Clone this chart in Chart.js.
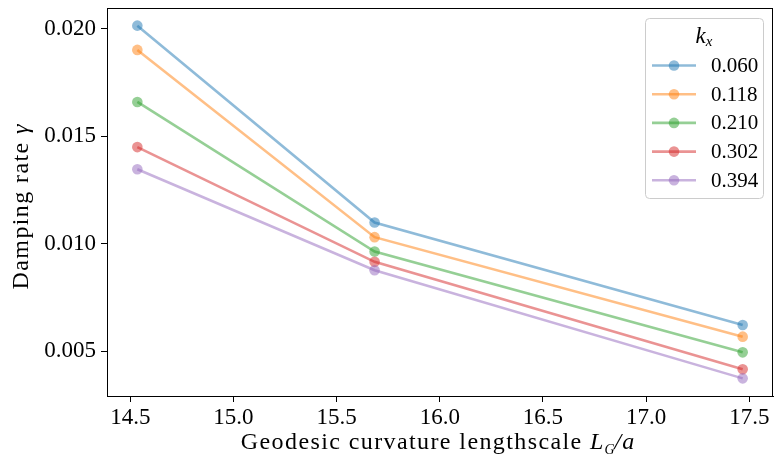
<!DOCTYPE html>
<html lang="en">
<head>
    <meta charset="UTF-8">
    <title>Damping rate vs geodesic curvature lengthscale</title>
    <script src="https://cdn.jsdelivr.net/npm/chart.js"></script>
    <style>
        body { margin: 0; background: #fff; }
        #wrap { width: 774px; height: 457px; }
    </style>
</head>
<body>
    <div id="wrap"><canvas id="dampChart" width="774" height="457"></canvas></div>

    <script>
        // data
        const lengthscales = [14.534, 15.684, 17.468];
        const kxLabels = ['0.060', '0.118', '0.210', '0.302', '0.394'];
        const gamma060 = [0.02014, 0.01098, 0.00621];
        const gamma118 = [0.01901, 0.01030, 0.00567];
        const gamma210 = [0.01659, 0.00963, 0.00494];
        const gamma302 = [0.01449, 0.00915, 0.00415];
        const gamma394 = [0.01346, 0.00876, 0.00373];
        const xTicks = [14.5, 15.0, 15.5, 16.0, 16.5, 17.0, 17.5];
        const yTicks = [0.005, 0.010, 0.015, 0.020];

        const allGamma = [gamma060, gamma118, gamma210, gamma302, gamma394];
        const colours = [
            'rgba(31, 119, 180, 0.5)',
            'rgba(255, 127, 14, 0.5)',
            'rgba(44, 160, 44, 0.5)',
            'rgba(214, 39, 40, 0.5)',
            'rgba(148, 103, 189, 0.5)'
        ];

        const serif = "'Liberation Serif', 'DejaVu Serif', serif";
        Chart.defaults.font.family = serif;
        Chart.defaults.color = '#000';

        const datasets = allGamma.map((g, i) => ({
            label: kxLabels[i],
            data: g.map((v, j) => ({ x: lengthscales[j], y: v })),
            borderColor: colours[i],
            backgroundColor: colours[i],
            pointBackgroundColor: colours[i],
            borderWidth: 2.6,
            pointRadius: 5.3,
            pointBorderWidth: 0,
            pointHoverRadius: 5.3,
            tension: 0,
            order: allGamma.length - i
        }));

        // write text pieces one after another, centred on cx
        function drawParts(ctx, parts, cx, y) {
            let total = 0;
            parts.forEach(p => {
                ctx.font = p.f;
                ctx.letterSpacing = p.ls || '0px';
                p.w = ctx.measureText(p.t).width;
                total += p.w;
            });
            let x = cx - total / 2;
            parts.forEach(p => {
                ctx.font = p.f;
                ctx.letterSpacing = p.ls || '0px';
                ctx.fillText(p.t, x, y + (p.dy || 0));
                x += p.w;
            });
            ctx.letterSpacing = '0px';
        }

        // fixed axis sizes, no extra room for overhanging labels
        function fitAxis(s, size) {
            if (s.isHorizontal()) s.height = size; else s.width = size;
            s.paddingTop = 0;
            s.paddingBottom = 0;
            s.paddingLeft = 0;
            s.paddingRight = 0;
        }

        // draws the frame, axis titles with math parts and the legend box
        const decorations = {
            id: 'decorations',
            afterDraw(chart) {
                const ctx = chart.ctx;
                const a = chart.chartArea;
                ctx.save();

                // top and right spines
                ctx.strokeStyle = '#000';
                ctx.lineWidth = 1;
                ctx.strokeRect(Math.round(a.left) + 0.5, Math.round(a.top) + 0.5,
                    Math.round(a.right - a.left) - 1, Math.round(a.bottom - a.top));

                ctx.fillStyle = '#000';
                ctx.textBaseline = 'alphabetic';
                ctx.textAlign = 'left';

                // x title
                drawParts(ctx, [
                    { t: 'Geodesic curvature lengthscale ', f: '24px ' + serif, ls: '1.4px' },
                    { t: 'L', f: 'italic 24px ' + serif, ls: '1px' },
                    { t: 'G', f: 'italic 14px ' + serif, dy: 5 },
                    { t: '/a', f: 'italic 24px ' + serif, ls: '1px' }
                ], (a.left + a.right) / 2 - 2, 449);

                // y title
                ctx.save();
                ctx.translate(28, (a.top + a.bottom) / 2 + 5);
                ctx.rotate(-Math.PI / 2);
                drawParts(ctx, [
                    { t: 'Damping rate ', f: '24px ' + serif, ls: '1.4px' },
                    { t: 'γ', f: 'italic 24px ' + serif }
                ], 0, 0);
                ctx.restore();

                // legend
                const bx = 645.5, by = 18.5, bw = 118, bh = 180, r = 4;
                ctx.beginPath();
                ctx.moveTo(bx + r, by);
                ctx.arcTo(bx + bw, by, bx + bw, by + bh, r);
                ctx.arcTo(bx + bw, by + bh, bx, by + bh, r);
                ctx.arcTo(bx, by + bh, bx, by, r);
                ctx.arcTo(bx, by, bx + bw, by, r);
                ctx.closePath();
                ctx.fillStyle = 'rgba(255, 255, 255, 0.8)';
                ctx.fill();
                ctx.strokeStyle = '#cccccc';
                ctx.stroke();

                // legend title k_x
                ctx.fillStyle = '#000';
                drawParts(ctx, [
                    { t: 'k', f: 'italic 23px ' + serif },
                    { t: 'x', f: 'italic 15px ' + serif, dy: 3 }
                ], 704, 43);

                chart.data.datasets.forEach((ds, i) => {
                    const ry = 65.5 + i * 28.7;
                    ctx.strokeStyle = ds.borderColor;
                    ctx.lineWidth = 2.6;
                    ctx.beginPath();
                    ctx.moveTo(652, ry);
                    ctx.lineTo(696, ry);
                    ctx.stroke();
                    ctx.fillStyle = ds.borderColor;
                    ctx.beginPath();
                    ctx.arc(674, ry, 5.3, 0, Math.PI * 2);
                    ctx.fill();
                    ctx.fillStyle = '#000';
                    ctx.font = '21px ' + serif;
                    ctx.textBaseline = 'middle';
                    ctx.fillText(ds.label, 711, ry + 1);
                    ctx.textBaseline = 'alphabetic';
                });

                ctx.restore();
            }
        };

        new Chart(document.getElementById('dampChart'), {
            type: 'line',
            data: { datasets: datasets },
            options: {
                responsive: false,
                animation: false,
                devicePixelRatio: 1,
                layout: { autoPadding: false, padding: { top: 8, right: 1, left: 0, bottom: 0 } },
                plugins: {
                    legend: { display: false },
                    tooltip: { enabled: false }
                },
                scales: {
                    x: {
                        type: 'linear',
                        min: 14.387,
                        max: 17.615,
                        afterBuildTicks: s => { s.ticks = xTicks.map(v => ({ value: v })); },
                        afterFit: s => fitAxis(s, 61),
                        ticks: {
                            font: { size: 23 },
                            color: '#000',
                            padding: 2,
                            maxRotation: 0,
                            callback: v => v.toFixed(1)
                        },
                        grid: { drawOnChartArea: false, drawTicks: true, tickLength: 6, color: '#000' },
                        border: { display: true, color: '#000', width: 1 },
                        title: { display: false }
                    },
                    y: {
                        type: 'linear',
                        min: 0.00291,
                        max: 0.02096,
                        afterBuildTicks: s => { s.ticks = yTicks.map(v => ({ value: v })); },
                        afterFit: s => fitAxis(s, 107),
                        ticks: {
                            font: { size: 23 },
                            color: '#000',
                            padding: 5,
                            callback: v => v.toFixed(3)
                        },
                        grid: { drawOnChartArea: false, drawTicks: true, tickLength: 6, color: '#000' },
                        border: { display: true, color: '#000', width: 1 },
                        title: { display: false }
                    }
                }
            },
            plugins: [decorations]
        });
    </script>
</body>
</html>
